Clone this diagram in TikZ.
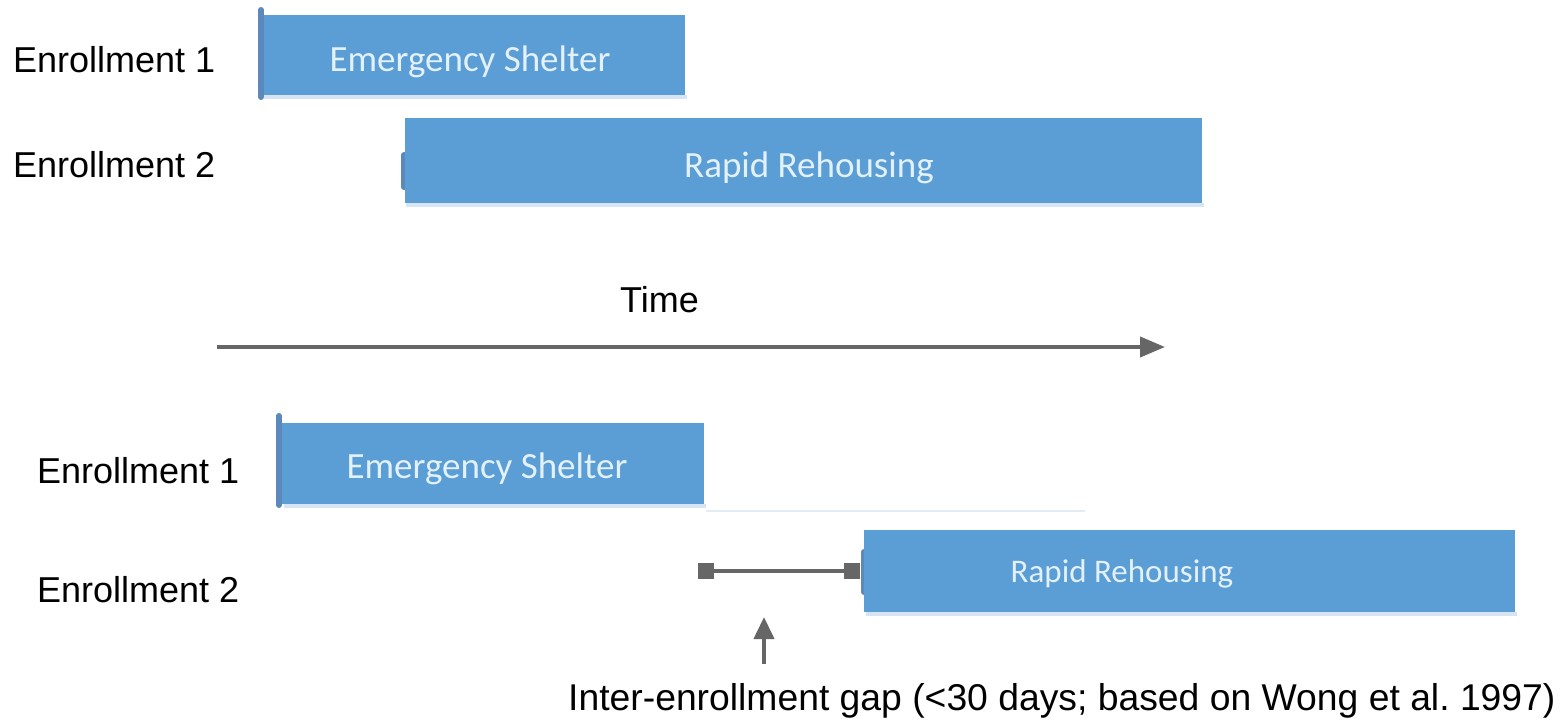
\documentclass[tikz,border=0pt]{standalone}
\usepackage{fontspec}
\setmainfont{Liberation Sans}
\newfontfamily\calib{Carlito}
\usetikzlibrary{arrows.meta}
\definecolor{barblue}{RGB}{91,157,213}
\definecolor{capblue}{RGB}{92,136,188}
\definecolor{bartext}{RGB}{226,241,251}
\definecolor{arrgray}{RGB}{102,102,102}
\definecolor{shadowblue}{RGB}{214,228,243}
\frenchspacing
\begin{document}
\begin{tikzpicture}[x=1pt,y=-1pt,
  bar/.style={fill=barblue, draw=none, rectangle, inner sep=0pt},
  lbl/.style={inner sep=0pt, anchor=base west, font=\fontsize{36}{40}\selectfont},
  bartxt/.style={inner sep=0pt, anchor=base, text=bartext},
  conn/.style={draw=arrgray, line width=4pt},
  endsq/.style={fill=arrgray, minimum size=16pt, inner sep=0pt},
  capline/.style={draw=capblue, line width=6pt, line cap=round},
  shadowline/.style={draw=shadowblue, line width=4pt}
]
\useasboundingbox[fill=white] (0,0) rectangle (1567,723);

% ---------- top scenario ----------
\node[lbl] (l1) at (13,72) {Enrollment 1};
\node[lbl] (l2) at (13,177) {Enrollment 2};

\draw[shadowline] (264,97) -- (687,97);
\node[bar, minimum width=423pt, minimum height=80pt] (es1) at (473.5,55) {};
\draw[capline] (261,10) -- (261,97);
\node[bartxt, font=\calib\fontsize{37}{40}\selectfont] (es1t) at (470,71) {Emergency Shelter};

\draw[shadowline] (406,205) -- (1204,205);
\draw[capline] (404,155) -- (404,187);
\node[bar, minimum width=797pt, minimum height=85pt] (rr1) at (803.5,160.5) {};
\node[bartxt, font=\calib\fontsize{37}{40}\selectfont] (rr1t) at (809,177) {Rapid Rehousing};

% ---------- time axis ----------
\node[lbl] (time) at (620,312) {Time};
\coordinate (t0) at (217,347);
\coordinate (t1) at (1165,347);
\draw[conn, -{Triangle[length=25pt,width=20pt]}] (t0) -- (t1);

% ---------- bottom scenario ----------
\node[lbl] (l3) at (37,483) {Enrollment 1};
\node[lbl] (l4) at (37,602) {Enrollment 2};

\draw[shadowline] (284,506) -- (706,506);
\draw[draw=shadowblue!70, line width=2pt] (706,511) -- (1085,511);
\node[bar, minimum width=422pt, minimum height=81pt] (es2) at (493,463.5) {};
\draw[capline] (279,416) -- (279,505);
\node[bartxt, font=\calib\fontsize{37}{40}\selectfont] (es2t) at (487,478) {Emergency Shelter};

\draw[shadowline] (866,614) -- (1517,614);
\draw[capline] (864,552) -- (864,592);
\node[bar, minimum width=651pt, minimum height=82pt] (rr2) at (1189.5,571) {};
\node[bartxt, font=\calib\fontsize{33}{36}\selectfont] (rr2t) at (1122,582) {Rapid Rehousing};

% gap marker
\node[endsq] (gl) at (706,571) {};
\node[endsq] (gr) at (852,571) {};
\draw[conn] (gl) -- (gr);

\coordinate (ua0) at (764,664);
\coordinate (ua1) at (764,617);
\draw[conn, -{Triangle[length=22pt,width=20pt]}] (ua0) -- (ua1);

\node[lbl, font=\fontsize{37.3}{40}\selectfont] (gap) at (568,710) {Inter-enrollment gap (<30 days; based on Wong et al. 1997)};
\end{tikzpicture}
\end{document}
